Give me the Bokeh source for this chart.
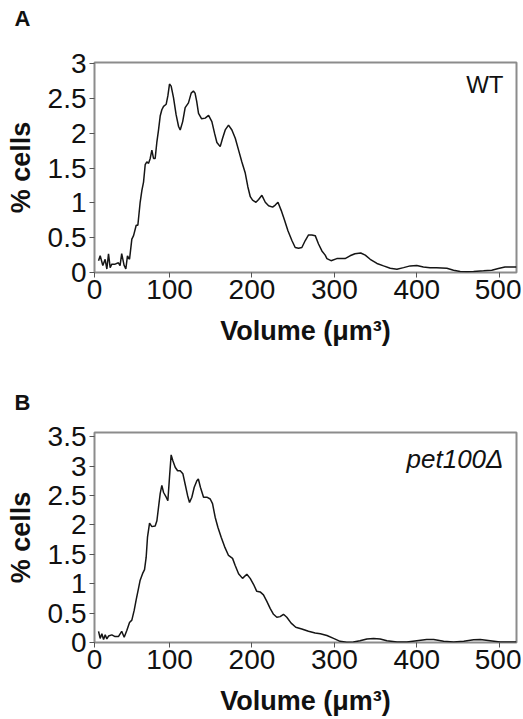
from bokeh.plotting import figure
from bokeh.layouts import column
from bokeh.models import Range1d, FixedTicker, NumeralTickFormatter, Label
from bokeh.embed import file_html
from bokeh.resources import INLINE

# ---------------- data ----------------
X_START = 9
X_END = 521
X_TICKS = [100, 200, 300, 400, 500]

WT_VOL = [13.9, 15.9, 19.1, 21.9, 24.0, 26.0, 28.0, 30.0, 34.0, 38.0, 40.0, 42.0, 45.0, 47.0,
          49.0, 51.5, 54.3, 56.4, 59.6, 61.6, 64.4, 66.5, 68.5, 70.5, 72.5, 74.6, 76.6, 78.6,
          80.6, 82.6, 84.7, 86.7, 88.7, 90.7, 92.8, 96.0, 98.0, 100.0, 102.0, 104.9, 108.0,
          111.0, 113.0, 116.0, 119.0, 123.0, 126.3, 129.0, 131.0, 133.0, 135.2, 139.0, 143.3,
          147.4, 151.4, 154.7, 157.5, 161.5, 164.4, 167.6, 171.6, 175.7, 179.8, 183.8, 187.8,
          191.9, 195.1, 198.0, 200.8, 204.9, 208.1, 212.1, 216.2, 220.2, 225.1, 228.3, 231.6,
          235.6, 239.6, 243.7, 248.5, 252.5, 256.6, 260.6, 264.7, 268.7, 272.7, 276.8, 280.8,
          284.9, 288.9, 291.0, 296.0, 303.0, 313.0, 319.0, 325.0, 332.0, 337.5, 343.5, 351.7,
          359.7, 367.8, 375.9, 384.0, 392.0, 400.0, 408.0, 416.0, 424.0, 436.5, 444.6, 452.7,
          460.8, 468.9, 481.0, 491.0, 499.0, 507.0, 517.0, 521.0]
WT_PCT = [0.17, 0.24, 0.10, 0.19, 0.05, 0.27, 0.07, 0.12, 0.12, 0.14, 0.10, 0.27, 0.10, 0.05,
          0.24, 0.19, 0.48, 0.53, 0.68, 0.68, 1.01, 1.18, 1.30, 1.55, 1.59, 1.57, 1.64, 1.76,
          1.64, 1.64, 1.88, 2.05, 2.25, 2.34, 2.39, 2.42, 2.54, 2.71, 2.68, 2.51, 2.27,
          2.10, 2.05, 2.17, 2.37, 2.44, 2.58, 2.61, 2.58, 2.46, 2.29, 2.21, 2.22,
          2.26, 2.17, 2.00, 1.87, 1.81, 1.93, 2.05, 2.12, 2.05, 1.93, 1.76, 1.59,
          1.43, 1.23, 1.09, 1.04, 1.01, 1.05, 1.11, 1.01, 0.96, 0.94, 0.97, 1.01,
          0.89, 0.75, 0.60, 0.46, 0.36, 0.35, 0.36, 0.46, 0.54, 0.54, 0.53, 0.41,
          0.31, 0.25, 0.20, 0.17, 0.20, 0.20, 0.24, 0.27, 0.28, 0.25, 0.19, 0.13,
          0.095, 0.06, 0.047, 0.07, 0.095, 0.10, 0.08, 0.07, 0.07, 0.06, 0.033, 0.014,
          0.01, 0.014, 0.024, 0.033, 0.057, 0.08, 0.08, 0.08]

PET_VOL = [13.9, 15.9, 17.9, 20.0, 22.0, 24.0, 26.0, 30.0, 34.0, 38.0, 42.0, 45.0, 48.3,
           51.5, 54.3, 57.2, 59.6, 62.4, 64.4, 67.3, 69.7, 71.7, 73.3, 75.8, 78.6, 82.6,
           84.7, 86.7, 88.7, 90.7, 92.8, 96.0, 98.0, 100.0, 102.0, 104.1, 106.9, 109.8,
           113.0, 116.2, 119.0, 121.9, 124.3, 127.1, 130.0, 133.2, 135.0, 137.5, 141.3,
           145.3, 149.4, 152.2, 155.4, 158.7, 162.7, 166.8, 171.6, 176.5, 179.7, 183.8,
           188.6, 193.8, 197.9, 201.9, 205.9, 210.0, 214.0, 218.1, 222.1, 226.2, 230.2,
           234.2, 238.3, 242.3, 247.6, 253.2, 260.5, 268.6, 276.7, 283.0, 291.0, 299.0,
           307.0, 315.0, 323.0, 331.0, 339.5, 347.6, 355.6, 363.8, 376.0, 388.0, 400.0,
           412.0, 420.5, 432.6, 444.7, 457.0, 469.0, 477.0, 489.0, 501.0, 513.6, 521.0]
PET_PCT = [0.19, 0.07, 0.15, 0.05, 0.13, 0.06, 0.11, 0.13, 0.10, 0.10, 0.19, 0.09, 0.21,
           0.34, 0.38, 0.55, 0.73, 0.92, 1.06, 1.17, 1.24, 1.45, 1.79, 2.03, 1.97, 1.98,
           2.07, 2.30, 2.53, 2.67, 2.55, 2.47, 2.41, 2.81, 3.19, 3.09, 2.98, 2.92,
           2.92, 2.87, 2.69, 2.50, 2.38, 2.47, 2.64, 2.75, 2.78, 2.64, 2.47,
           2.47, 2.44, 2.36, 2.13, 1.96, 1.79, 1.63, 1.48, 1.43, 1.31, 1.17,
           1.09, 1.16, 1.09, 0.99, 0.87, 0.86, 0.81, 0.70, 0.58, 0.48, 0.43,
           0.44, 0.48, 0.43, 0.33, 0.26, 0.23, 0.19, 0.16, 0.15, 0.12, 0.07,
           0.02, 0.005, 0.01, 0.03, 0.06, 0.07, 0.06, 0.03, 0.01, 0.01, 0.03,
           0.05, 0.05, 0.02, 0.01, 0.02, 0.045, 0.05, 0.03, 0.01, 0.01, 0.01]

Y_TICKS_A = [0, 0.5, 1, 1.5, 2, 2.5, 3]
Y_TICKS_B = [0, 0.5, 1, 1.5, 2, 2.5, 3, 3.5]
Y_END_A = 3.02
Y_END_B = 3.57

X_LABEL = "Volume (\u03bcm\u00b3)"
Y_LABEL = "% cells"

FONT = "Liberation Sans"


def make_panel(vol, pct, y_end, y_ticks, tag, name, name_style, name_size, height,
               b_top, b_bottom, tag_standoff, name_y):
    p = figure(width=521, height=height, output_backend="svg", toolbar_location=None,
               x_range=Range1d(X_START, X_END), y_range=Range1d(0, y_end),
               min_border_left=94, min_border_right=5,
               min_border_top=b_top, min_border_bottom=b_bottom)
    p.line(vol, pct, line_color="#151515", line_width=1.5)

    p.xgrid.grid_line_color = None
    p.ygrid.grid_line_color = None
    p.outline_line_color = "#8c8c8c"
    p.outline_line_width = 2
    p.background_fill_color = "white"
    p.border_fill_color = "white"

    p.xaxis.ticker = FixedTicker(ticks=[X_START] + X_TICKS)
    p.xaxis.major_label_overrides = {X_START: "0"}
    p.yaxis.ticker = FixedTicker(ticks=y_ticks)
    p.yaxis.formatter = NumeralTickFormatter(format="0.[0]")

    for ax in (p.xaxis[0], p.yaxis[0]):
        ax.axis_line_color = None
        ax.major_tick_line_color = "#555555"
        ax.major_tick_in = 0
        ax.major_tick_out = 5
        ax.minor_tick_line_color = None
        ax.major_label_text_font = FONT
        ax.major_label_text_font_size = "28px"
        ax.major_label_text_color = "#111111"
        ax.axis_label_text_font = FONT
        ax.axis_label_text_font_size = "27px"
        ax.axis_label_text_font_style = "bold"
        ax.axis_label_text_color = "#111111"

    p.xaxis.axis_label = X_LABEL
    p.xaxis.major_label_standoff = 2
    p.xaxis.axis_label_standoff = 14
    p.yaxis.axis_label = Y_LABEL
    p.yaxis.major_label_standoff = 3
    p.yaxis.axis_label_standoff = 9

    p.title.text = tag
    p.title.align = "left"
    p.title.vertical_align = "top"
    p.title.offset = -80
    p.title.standoff = tag_standoff
    p.title.text_font = FONT
    p.title.text_font_size = "22px"
    p.title.text_font_style = "bold"
    p.title.text_color = "#111111"

    p.add_layout(Label(x=409, y=name_y, x_units="screen", y_units="screen", text=name,
                       text_font=FONT, text_font_size=name_size, text_font_style=name_style,
                       text_align="right", text_baseline="alphabetic",
                       text_color="#111111"))
    return p


# panel A's tag sits higher above its frame: a second (empty) line gives the tag room
pA = make_panel(WT_VOL, WT_PCT, Y_END_A, Y_TICKS_A, "A\n", "WT", "normal", "24px",
                height=373, b_top=61, b_bottom=101, tag_standoff=10, name_y=188)
pB = make_panel(PET_VOL, PET_PCT, Y_END_B, Y_TICKS_B, "B", "pet100\u0394", "italic", "26px",
                height=345, b_top=57, b_bottom=76, tag_standoff=32, name_y=184)

layout = column(pA, pB, spacing=0)
open("out.html", "w").write(file_html(layout, INLINE))
